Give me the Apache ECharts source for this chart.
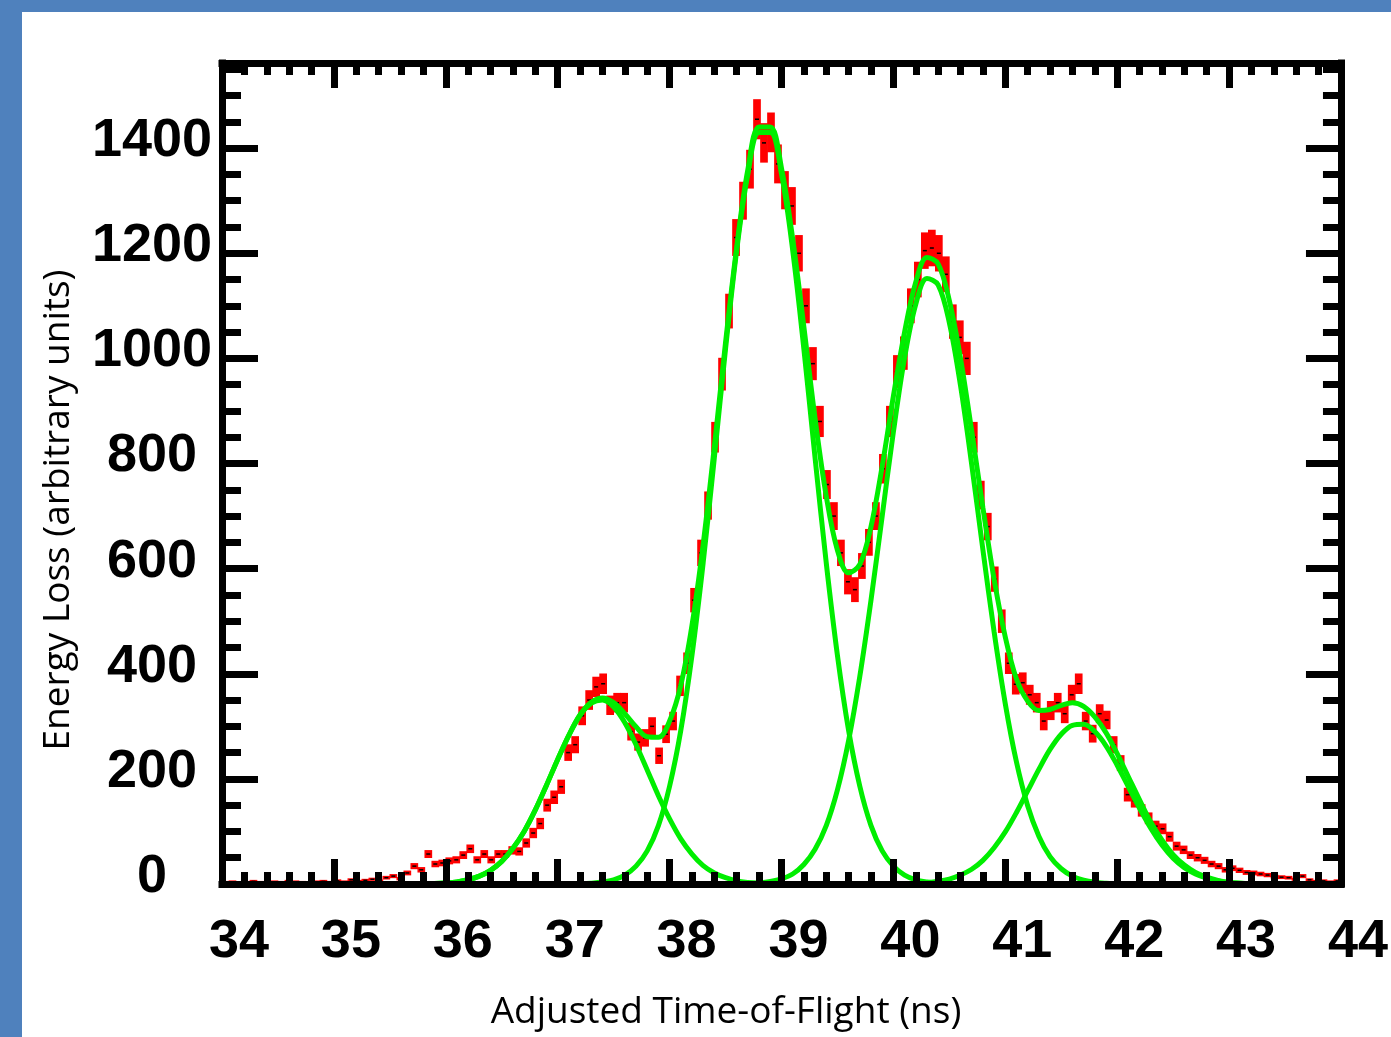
<!DOCTYPE html>
<html>
<head>
<meta charset="utf-8">
<title>Energy loss vs adjusted time-of-flight</title>
<script src="https://cdn.jsdelivr.net/npm/echarts@6/dist/echarts.min.js"></script>
<style>
  html, body { margin: 0; padding: 0; background: #fff; }
  #chart { width: 1391px; height: 1037px; }
</style>
</head>
<body>
<div id="chart"></div>
<script>
// measured histogram, bins 1/16 ns wide starting at 34 ns
const binStart = 34
const binWidth = 0.0625
const counts = [
  3, 4, 2, 3, 5, 3, 2, 4, 3, 5, 4, 3, 2, 4, 5, 3,
  6, 4, 8, 5, 7, 9, 6,
  12, 15, 10, 21, 34, 27,
  57, 38, 40, 44, 46, 55, 67, 46, 57, 46, 57, 57, 64, 62,
  78, 97, 115, 150, 165, 185,
  250, 265, 320, 350, 375, 381, 340, 345, 345,
  290, 270, 278, 300, 244, 285, 310, 377, 420,
  540, 630, 720, 850, 970, 1090, 1230,
  1300, 1360, 1455, 1410, 1430, 1370, 1320, 1290, 1200, 1100, 990,
  880, 760, 700, 630, 575, 560, 605, 650, 700,
  790, 880, 975, 1010, 1100, 1150, 1205, 1210, 1200, 1160, 1070, 1040, 1000, 850, 740, 680, 580, 500, 420, 380,
  383, 360, 345, 310, 330, 345, 324, 360, 381, 310, 286, 324, 312, 265, 230,
  170, 158, 140, 125, 110, 105, 90, 72, 65, 55, 50, 45, 38, 34, 27,
  30, 26, 22, 21, 19, 17, 14, 13, 12, 9, 15, 8, 5, 6, 4, 6
]

// fitted curves, sampled every 0.1 ns from 35.8 ns to 43.2 ns
const fitStart = 35.8
const fitStep = 0.1
const fitTotal = [
  0.4, 0.9, 2, 4, 8, 15, 26, 43, 68, 100, 141, 188, 237, 283, 322, 346, 354, 345, 324, 299,
  280, 279, 310, 378, 492, 646, 832, 1030, 1212, 1360, 1440, 1440, 1362, 1228, 1060, 886, 738, 635, 592, 608,
  680, 795, 928, 1050, 1145, 1192, 1180, 1110, 1000, 862, 716, 580, 470, 390, 348, 330, 332, 340, 345, 338,
  318, 288, 248, 204, 160, 118, 84, 56, 36, 22, 13, 7, 3, 1.5, 0.6
]
const fitPeak1 = [
  0.4, 0.9, 2, 4, 8, 15, 26, 43, 68, 100, 141, 188, 237, 283, 321, 344, 350, 337, 307, 265,
  217, 168, 124, 86, 57, 35, 21, 12, 6, 3, 1.5, 0.7, 0.3, 0, 0, 0, 0, 0, 0, 0,
  0, 0, 0, 0, 0, 0, 0, 0, 0, 0, 0, 0, 0, 0, 0, 0, 0, 0, 0, 0,
  0, 0, 0, 0, 0, 0, 0, 0, 0, 0, 0, 0, 0, 0, 0
]
const fitPeak2 = [
  0, 0, 0, 0, 0, 0, 0, 0, 0, 0, 0, 0, 0, 0.2, 0.6, 1.6, 3.7, 8, 17, 34,
  63, 111, 186, 292, 435, 611, 811, 1018, 1206, 1351, 1430, 1430, 1351, 1206, 1018, 811, 611, 435, 292, 186,
  111, 63, 34, 17, 8, 3.7, 1.6, 0.6, 0, 0, 0, 0, 0, 0, 0, 0, 0, 0, 0, 0,
  0, 0, 0, 0, 0, 0, 0, 0, 0, 0, 0, 0, 0, 0, 0
]
const fitPeak3 = [
  0, 0, 0, 0, 0, 0, 0, 0, 0, 0, 0, 0, 0, 0, 0, 0, 0, 0, 0, 0,
  0, 0, 0, 0, 0, 0, 0, 0, 0.4, 0.9, 2, 4.6, 9.7, 19, 37, 66, 111, 179, 273, 395,
  540, 700, 860, 1001, 1103, 1152, 1140, 1068, 948, 798, 636, 480, 343, 232, 149, 91, 52, 29, 15, 7.3,
  3.3, 1.5, 0.6, 0, 0, 0, 0, 0, 0, 0, 0, 0, 0, 0, 0
]
const fitPeak4 = [
  0, 0, 0, 0, 0, 0, 0, 0, 0, 0, 0, 0, 0, 0, 0, 0, 0, 0, 0, 0,
  0, 0, 0, 0, 0, 0, 0, 0, 0, 0, 0, 0, 0, 0, 0, 0, 0, 0, 0, 0,
  0, 0, 0, 0.5, 1.2, 2.6, 5.1, 9.4, 17, 28, 45, 69, 99, 136, 177, 218, 256, 285, 302, 304,
  290, 263, 226, 185, 144, 106, 74, 49, 31, 19, 11, 5.8, 3, 1.4, 0.6
]

const xTitle = 'Adjusted Time-of-Flight (ns)'
const yTitle = 'Energy Loss (arbitrary units)'

const chart = echarts.init(document.getElementById('chart'))

const binData = counts.map((c, i) => [binStart + binWidth * (i + 0.5), c, Math.sqrt(c)])
const fitTimes = fitTotal.map((_, i) => +(fitStart + fitStep * i).toFixed(2))
const toPairs = vals => vals.map((v, i) => [fitTimes[i], v])

// red error box with a small black dash at the bin value
function renderBin(params, api) {
  const t = api.value(0)
  const c = api.value(1)
  const e = api.value(2)
  const half = binWidth * 0.55
  const topLeft = api.coord([t - half, c + e])
  const bottomRight = api.coord([t + half, c - e])
  const mid = api.coord([t, c])
  let y = topLeft[1]
  let h = bottomRight[1] - topLeft[1]
  if (h < 3) {
    y = mid[1] - 1.5
    h = 3
  }
  return {
    type: 'group',
    children: [
      {
        type: 'rect',
        shape: { x: topLeft[0], y: y, width: bottomRight[0] - topLeft[0], height: h },
        style: { fill: '#ff0000' }
      },
      {
        type: 'rect',
        shape: { x: mid[0] - 2, y: mid[1] - 0.75, width: 4, height: 1.5 },
        style: { fill: '#000' }
      }
    ]
  }
}

function fitLine(name, vals) {
  return {
    name: name,
    type: 'line',
    data: toPairs(vals),
    showSymbol: false,
    smooth: 0.35,
    silent: true,
    z: 3,
    lineStyle: { color: '#00ee00', width: 5 }
  }
}

const black = '#000'
const frame = { show: true, onZero: false, lineStyle: { color: black, width: 7, cap: 'square' } }
const labelFont = { color: black, fontFamily: 'Liberation Sans', fontWeight: 'bold', fontSize: 54 }

function xAxisAt(position, withLabels) {
  return {
    type: 'value',
    position: position,
    min: 34,
    max: 44,
    interval: 1,
    z: 10,
    axisLine: frame,
    axisTick: { show: true, inside: true, length: 25, lineStyle: { color: black, width: 7 } },
    minorTick: { show: true, splitNumber: 5, length: 12, lineStyle: { color: black, width: 7 } },
    splitLine: { show: false },
    axisLabel: withLabels
      ? Object.assign({ show: true, margin: 31, padding: [0, 0, 0, 34] }, labelFont)
      : { show: false }
  }
}

function yAxisAt(position, interval, tickLength, withLine, withLabels) {
  return {
    type: 'value',
    position: position,
    min: 0,
    max: 1562,
    interval: interval,
    z: 10,
    axisLine: withLine ? frame : { show: false },
    axisTick: { show: true, inside: true, length: tickLength, lineStyle: { color: black, width: 7 } },
    splitLine: { show: false },
    axisLabel: withLabels
      ? Object.assign({
          show: true,
          margin: 70,
          align: 'center',
          verticalAlign: 'bottom',
          lineHeight: 14,
          formatter: v => (v % 200 === 0 ? String(v) : '')
        }, labelFont)
      : { show: false }
  }
}

const option = {
  animation: false,
  backgroundColor: '#fff',
  grid: { left: 222, right: 50, top: 63, bottom: 153 },
  xAxis: [xAxisAt('bottom', true), xAxisAt('top', false)],
  yAxis: [
    yAxisAt('left', 50, 19, true, false),
    yAxisAt('left', 200, 36, false, true),
    yAxisAt('right', 50, 18, true, false),
    yAxisAt('right', 200, 35, false, false)
  ],
  graphic: [
    { type: 'rect', left: 0, top: 0, shape: { width: 1391, height: 12 }, style: { fill: '#4f81bd' }, z: 100 },
    { type: 'rect', left: 0, top: 0, shape: { width: 22, height: 1037 }, style: { fill: '#4f81bd' }, z: 100 },
    {
      type: 'text', x: 726, y: 1012,
      style: { text: xTitle, fill: black, font: '37px "Open Sans"', align: 'center', verticalAlign: 'middle' }
    },
    {
      type: 'text', x: 58, y: 510, rotation: Math.PI / 2,
      style: { text: yTitle, fill: black, font: '37px "Open Sans"', align: 'center', verticalAlign: 'middle' }
    }
  ],
  series: [
    {
      name: 'data',
      type: 'custom',
      renderItem: renderBin,
      data: binData,
      encode: { x: 0, y: 1 },
      silent: true,
      z: 2
    },
    fitLine('peak 1', fitPeak1),
    fitLine('peak 2', fitPeak2),
    fitLine('peak 3', fitPeak3),
    fitLine('peak 4', fitPeak4),
    fitLine('total', fitTotal)
  ]
}

chart.setOption(option)
</script>
</body>
</html>
